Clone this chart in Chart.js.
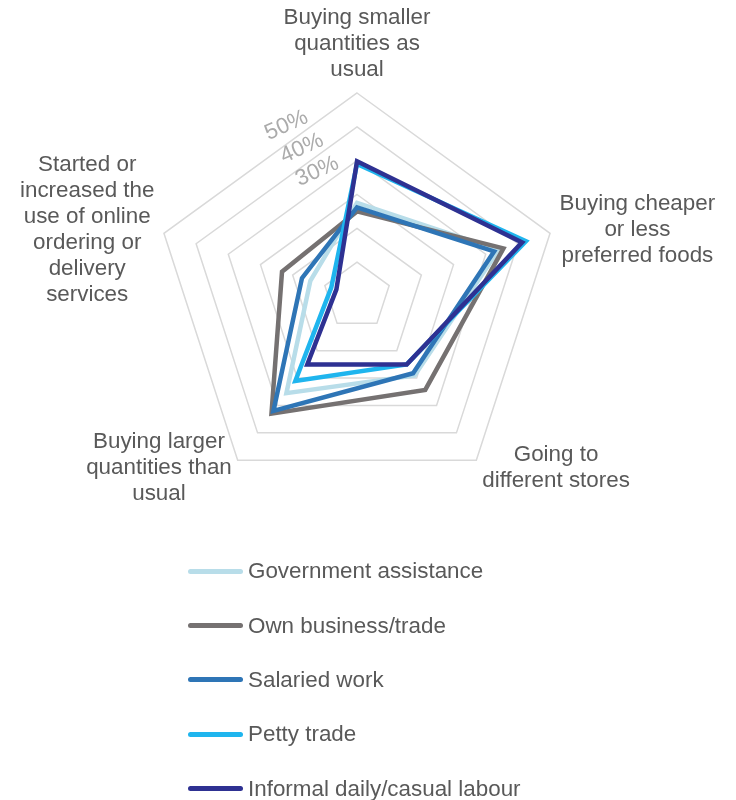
<!DOCTYPE html>
<html>
<head>
<meta charset="utf-8">
<script src="https://cdn.jsdelivr.net/npm/chart.js@4.4.1/dist/chart.umd.min.js"></script>
<style>
  html, body { margin: 0; padding: 0; background: #ffffff; }
  #wrap { position: relative; width: 736px; height: 800px; overflow: hidden; }
  #c { position: absolute; left: 0; top: 0; }
  #legend { position: absolute; left: 188px; top: 544px; font-family: "Liberation Sans", Arial, sans-serif; font-size: 22.4px; color: #595959; }
  .item { display: flex; align-items: center; height: 54.4px; white-space: nowrap; }
  .sw { width: 55px; height: 5px; border-radius: 3px; margin-right: 5px; }
</style>
</head>
<body>
<div id="wrap">
  <canvas id="c" width="736" height="800"></canvas>
  <div id="legend"></div>
</div>
<script>
// ---- data ----
const categories = [
  ['Buying smaller', 'quantities as', 'usual'],
  ['Buying cheaper', 'or less', 'preferred foods'],
  ['Going to', 'different stores'],
  ['Buying larger', 'quantities than', 'usual'],
  ['Started or', 'increased the', 'use of online', 'ordering or', 'delivery', 'services']
];
const seriesNames = ['Government assistance', 'Own business/trade', 'Salaried work', 'Petty trade', 'Informal daily/casual labour'];
const governmentAssistance = [27.5, 44, 29, 35.5, 14.5];
const ownBusiness          = [25, 45.5, 34.3, 43, 23.3];
const salariedWork         = [26.2, 42.6, 28.2, 42, 17.1];
const pettyTrade           = [39, 52.5, 25, 31, 8];
const informalLabour       = [39.8, 51.3, 25, 25, 6.4];
const tickValues = [30, 40, 50];
const tickLabels = ['30%', '40%', '50%'];

const seriesValues = [governmentAssistance, ownBusiness, salariedWork, pettyTrade, informalLabour];
const seriesColors = ['#b8dde9', '#757171', '#2e75b6', '#1fb5ee', '#2e3192'];

const FONT = '"Liberation Sans", Arial, sans-serif';
const TEXT = '#595959';

const labelPlugin = {
  id: 'customLabels',
  afterDraw(chart) {
    const ctx = chart.ctx;
    const s = chart.scales.r;
    const R = s.drawingArea;
    const k = R / 203;
    ctx.save();
    // point labels
    ctx.font = '22.4px ' + FONT;
    ctx.fillStyle = TEXT;
    ctx.textAlign = 'center';
    ctx.textBaseline = 'middle';
    const LH = 26;
    chart.data.labels.forEach((lines, i) => {
      const p = s.getPointPosition(i, R + 10);
      const dx = p.x - s.xCenter;
      const bw = Math.max(...lines.map(l => ctx.measureText(l).width));
      const H = lines.length * LH;
      let cx, top;
      if (Math.abs(dx) < 1) { cx = p.x; top = p.y - H; }
      else if (dx > 0) { cx = p.x + bw / 2; top = p.y - H / 2; }
      else { cx = p.x - bw / 2; top = p.y - H / 2; }
      lines.forEach((l, j) => ctx.fillText(l, cx, top + LH * (j + 0.5)));
    });
    // rotated tick labels
    ctx.fillStyle = '#ababab';
    ctx.font = '22.4px ' + FONT;
    tickValues.forEach((v, i) => {
      const x = s.xCenter + (-1.54 * v + 6.5) * k;
      const y = s.yCenter + (-2.3 * v - 55.6) * k;
      ctx.save();
      ctx.translate(x, y);
      ctx.rotate(-24 * Math.PI / 180);
      ctx.fillText(tickLabels[i], 0, 0);
      ctx.restore();
    });
    ctx.restore();
  }
};

const datasets = seriesNames.map((name, i) => ({
  label: name,
  data: seriesValues[i],
  borderColor: seriesColors[i],
  backgroundColor: seriesColors[i],
  fill: false,
  borderWidth: 4.5,
  pointRadius: 0,
  pointHoverRadius: 0,
  order: seriesNames.length - i
}));

const chart = new Chart(document.getElementById('c'), {
  type: 'radar',
  data: { labels: categories, datasets: datasets },
  options: {
    responsive: false,
    animation: false,
    layout: { padding: { left: 154, right: 176, top: 93, bottom: 301 } },
    plugins: { legend: { display: false }, tooltip: { enabled: false } },
    elements: { line: { tension: 0, borderJoinStyle: 'miter' } },
    scales: {
      r: {
        min: 0, max: 60,
        ticks: { stepSize: 10, display: false },
        grid: { color: '#d9d9d9', lineWidth: 1.5 },
        angleLines: { display: false },
        pointLabels: { display: false }
      }
    }
  },
  plugins: [labelPlugin]
});

// legend built from chart datasets
const leg = document.getElementById('legend');
chart.data.datasets.forEach(ds => {
  const row = document.createElement('div');
  row.className = 'item';
  const sw = document.createElement('div');
  sw.className = 'sw';
  sw.style.background = ds.borderColor;
  const t = document.createElement('span');
  t.textContent = ds.label;
  row.appendChild(sw); row.appendChild(t);
  leg.appendChild(row);
});
</script>
</body>
</html>
